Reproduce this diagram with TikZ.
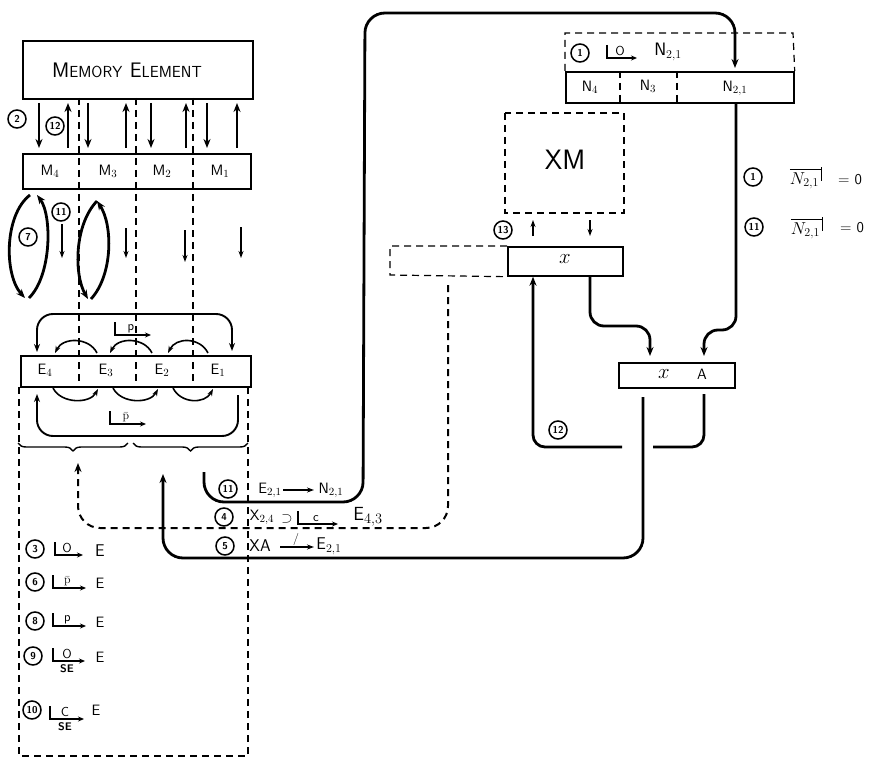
\documentclass[tikz,border=0pt]{standalone}
\usepackage{amsmath}
\usetikzlibrary{arrows.meta,calc,decorations.pathreplacing}
% L-shaped operator: x, y (corner), label above, label below, arrow length
\newcommand\Lsym[5]{%
  \draw[line width=1.6pt, -{Stealth[length=6pt,width=5pt]}] (#1,#2-13) -- (#1,#2) -- (#1+#5,#2);
  \node[font=\sffamily\fontsize{13}{13}\selectfont, inner sep=0pt, anchor=south] at (#1+#5/2-2,#2-2) {#3};
  \node[font=\sffamily\bfseries\fontsize{11}{11}\selectfont, inner sep=0pt, anchor=north] at (#1+#5/2-2,#2+3) {#4};
}
\newcommand\Nbar{\ensuremath{\overline{N_{2,1}\,}\kern-0.5pt\vrule width 0.7pt height 1.0em depth -0.2em}}
\begin{document}
\begin{tikzpicture}[x=1pt,y=-1pt,
  reg/.style={draw, line width=1.7pt, inner sep=0pt, anchor=north west},
  dv/.style={dash pattern=on 7pt off 5pt, line width=1.2pt},
  cnum/.style={circle, draw, line width=1.5pt, inner sep=0.5pt, minimum size=18pt, font=\sffamily\bfseries\fontsize{10}{10}\selectfont},
  lbl/.style={font=\sffamily\fontsize{15}{17}\selectfont, inner sep=1pt},
  thk/.style={line width=2.8pt},
  arr/.style={-{Stealth[length=9pt,width=7pt]}},
  sarr/.style={-{Stealth[length=7pt,width=5pt]}},
  brc/.style={decorate, decoration={brace, mirror, amplitude=8pt}, line width=1.4pt},
]
\useasboundingbox (0,0) rectangle (874,767);

% ---------- left column ----------
\node[reg, minimum width=230pt, minimum height=58pt] (ME) at (22,40) {};
\node[lbl] at (127,70) {\fontsize{21}{21}\selectfont M\fontsize{16}{16}\selectfont EMORY\ \,\fontsize{21}{21}\selectfont E\fontsize{16}{16}\selectfont LEMENT};
\node[reg, minimum width=228pt, minimum height=35pt] (M) at (22,153) {};
\node[reg, minimum width=230pt, minimum height=31pt] (E) at (20,355) {};
\foreach \x in {79,136,193} \draw[dv] (\x,98) -- (\x,386);

\node[lbl] at (50,171) {M$_4$};
\node[lbl] at (108,171) {M$_3$};
\node[lbl] at (162,171) {M$_2$};
\node[lbl] at (220,171) {M$_1$};
\node[lbl] at (45,370) {E$_4$};
\node[lbl] at (106,370) {E$_3$};
\node[lbl] at (162,370) {E$_2$};
\node[lbl] at (218,370) {E$_1$};

\foreach \x in {39,88,151,207} \draw[arr, line width=2.2pt] (\x,103) -- (\x,148);
\foreach \x in {68,126,186,237} \draw[arr, line width=2.2pt] (\x,148) -- (\x,103);
\node[cnum] (c2) at (17,119) {2};
\node[cnum] (c12a) at (55,126) {12};

% loops between M and E
\draw[arr, line width=2.8pt] (30,195) .. controls (4,215) and (4,275) .. (25,298);
\draw[arr, line width=2.8pt] (29,298) .. controls (52,275) and (52,215) .. (37,195);
\node[cnum] (c7) at (28,237) {7};
\node[cnum] (c11a) at (61,212) {11};
\draw[sarr, line width=1.6pt] (62,224) -- (62,258);
\draw[arr, line width=2.8pt] (97,201) .. controls (74,225) and (74,275) .. (88,299);
\draw[arr, line width=2.8pt] (91,299) .. controls (113,275) and (113,225) .. (97,201);
\draw[sarr, line width=1.6pt] (126,228) -- (126,258);
\draw[sarr, line width=1.6pt] (185,230) -- (185,262);
\draw[sarr, line width=1.6pt] (241,227) -- (241,258);

% arcs above and below E
\draw[{Stealth[length=8pt,width=6pt]}-{Stealth[length=8pt,width=6pt]}, line width=1.9pt, rounded corners=16pt] (37,352) -- (37,314) -- (232,314) -- (232,351);
\Lsym{115}{335}{p}{}{36}
\foreach \a/\b in {97/55,152/110,208/168}
  \draw[sarr, line width=1.6pt] (\a,353) .. controls (\a-8,337) and (\b+8,337) .. (\b,353);
\foreach \a/\b in {53/98,113/158,173/213}
  \draw[sarr, line width=1.6pt] (\a,388) .. controls (\a+8,404) and (\b-8,404) .. (\b,389);
\draw[{Stealth[length=8pt,width=6pt]}-, line width=1.9pt, rounded corners=16pt] (37,394) -- (37,436) -- (238,436) -- (238,395);
\Lsym{110}{424}{$\bar{\mathrm{p}}$}{}{36}

% braces
\draw[brc] (18,443) -- (128,443);
\draw[brc] (133,443) -- (248,443);

% dashed frame
\draw[dv] (19,387) -- (19,756) -- (248,756) -- (248,387);

% ---------- right part ----------
\node[reg, minimum width=228pt, minimum height=31pt] (N) at (565,71) {};
\draw[dv] (N.north west) -- (565,33) -- (793,33) -- (N.north east);
\draw[dv] (620,71) -- (620,102);
\draw[dv] (677,71) -- (677,102);
\node[lbl] at (590,87) {N$_4$};
\node[lbl] at (648,86) {N$_3$};
\node[lbl] at (735,88) {N$_{2,1}$};
\node[cnum] (c1a) at (580,53) {1};
\Lsym{607}{58}{O}{}{30}
\node[lbl] at (668,52) {\fontsize{18}{18}\selectfont N$_{2,1}$};

\node[cnum] (c1b) at (753,177) {1};
\node[lbl] at (806,178) {\fontsize{17}{17}\selectfont\Nbar};
\node[lbl] at (850,180) {= 0};
\node[cnum] (c11b) at (754,227) {11};
\node[lbl] at (807,228) {\fontsize{17}{17}\selectfont\Nbar};
\node[lbl] at (852,228) {= 0};

\draw[dv] (505,113) rectangle (624,213);
\node[font=\sffamily\fontsize{28}{28}\selectfont] (XM) at (565,160) {XM};
\draw[sarr, line width=1.8pt] (533,236) -- (533,220);
\draw[sarr, line width=1.8pt] (590,220) -- (590,236);
\node[cnum] (c13) at (503,230) {13};

\node[reg, minimum width=115pt, minimum height=29pt] (X) at (507,246) {};
\draw[dv] (X.north west) -- (390,246) -- (390,275) -- (X.south west);
\node[lbl, font=\fontsize{22}{22}\selectfont] at (565,259) {$x$};

\node[reg, minimum width=116pt, minimum height=25pt] (XA) at (618,362) {};
\node[lbl, font=\fontsize{20}{20}\selectfont] at (664,374) {$x$};
\node[lbl] at (702,374) {A};

\draw[thk, arr, rounded corners=14pt] (N.south -| 736,0) -- (736,330) -- (704,330) -- (704,356);
\draw[thk, arr, rounded corners=14pt] (X.south -| 590,0) -- (590,326) -- (650,326) -- (650,356);
\draw[thk, arr, rounded corners=12pt] (622,447) -- (533,447) -- (X.south -| 533,0);
\draw[thk, rounded corners=12pt] (704,394) -- (704,447) -- (653,447);
\node[cnum] (c12b) at (558,430) {12};

% long connectors
\draw[thk, arr, rounded corners=20pt] (204,472) -- (204,502) -- (363,502) -- (365,13) -- (735,13) -- (735,68);
\draw[dv, line width=2pt, arr, rounded corners=22pt] (448,285) -- (448,528) -- (78,528) -- (78,463);
\draw[thk, arr, rounded corners=20pt] (643,397) -- (643,558) -- (163,558) -- (163,474);

\node[cnum] (c11c) at (228,489) {11};
\node[lbl] at (270,490) {E$_{2,1}$};
\draw[sarr, line width=1.6pt] (283,490) -- (314,490);
\node[lbl] at (331,490) {N$_{2,1}$};
\node[cnum] (c4) at (224,517) {4};
\node[lbl] at (262,517) {X$_{2,4}$};
\node[lbl] at (287,519) {$\supset$};
\Lsym{298}{524}{c}{}{40}
\node[lbl] at (368,517) {\fontsize{19}{19}\selectfont E$_{4,3}$};
\node[cnum] (c5) at (225,546) {5};
\node[lbl] at (260,546) {\fontsize{17}{17}\selectfont XA};
\draw[sarr, line width=1.6pt] (280,547) -- (314,547);
\node[font=\sffamily\fontsize{12}{12}\selectfont, inner sep=0pt] at (296,539) {/};
\node[lbl] at (329,546) {\fontsize{17}{17}\selectfont E$_{2,1}$};

% bottom-left legend
\node[cnum] (c3) at (35,549) {3};
\Lsym{55}{555}{O}{}{28}
\node[lbl] at (100,551) {\fontsize{17}{17}\selectfont E};
\node[cnum] (c6) at (35,582) {6};
\Lsym{53}{588}{$\bar{\mathrm{p}}$}{}{33}
\node[lbl] at (100,583) {E};
\node[cnum] (c8) at (35,621) {8};
\Lsym{53}{626}{p}{}{33}
\node[lbl] at (100,622) {E};
\node[cnum] (c9) at (33,656) {9};
\Lsym{53}{661}{O}{SE}{32}
\node[lbl] at (100,657) {E};
\node[cnum] (c10) at (32,710) {10};
\Lsym{50}{719}{C}{SE}{34}
\node[lbl] at (96,710) {E};
\end{tikzpicture}
\end{document}
